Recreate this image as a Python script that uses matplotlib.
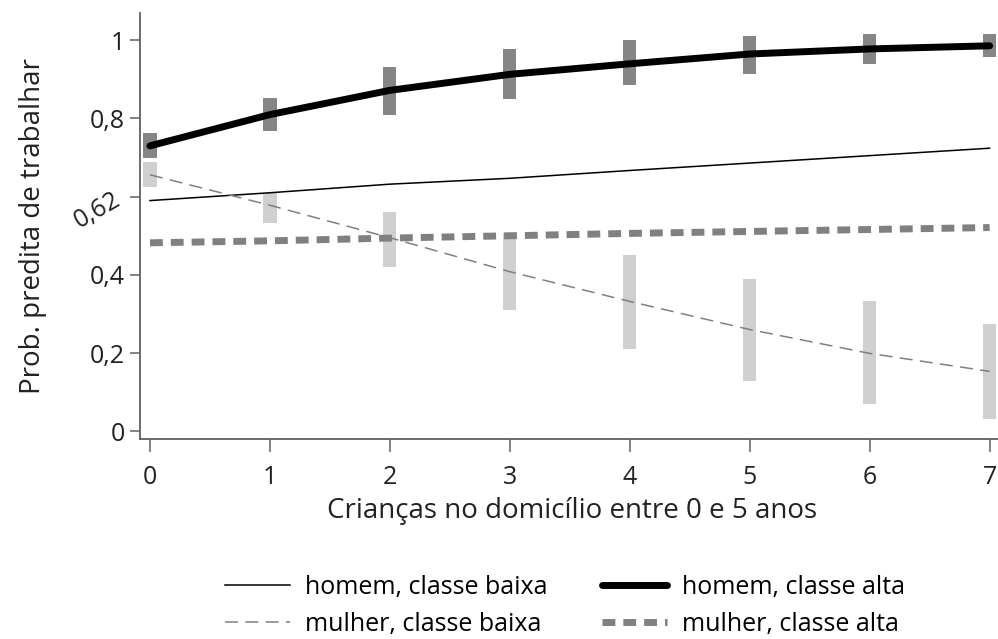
import matplotlib.pyplot as plt
import numpy as np

plt.rcParams['font.family'] = ['Open Sans', 'DejaVu Sans']

criancas = [0, 1, 2, 3, 4, 5, 6, 7]

homem_baixa = [0.59, 0.61, 0.632, 0.647, 0.667, 0.686, 0.705, 0.724]
homem_alta = [0.73, 0.81, 0.872, 0.913, 0.94, 0.965, 0.978, 0.986]
mulher_baixa = [0.656, 0.578, 0.495, 0.408, 0.332, 0.26, 0.199, 0.153]
mulher_alta = [0.482, 0.487, 0.494, 0.5, 0.506, 0.511, 0.516, 0.521]

# intervalos de confiança (inferior, superior)
homem_alta_lo = [0.70, 0.768, 0.809, 0.849, 0.885, 0.915, 0.94, 0.957]
homem_alta_hi = [0.763, 0.852, 0.931, 0.977, 1.0, 1.01, 1.015, 1.015]
mulher_baixa_lo = [0.625, 0.533, 0.421, 0.309, 0.209, 0.128, 0.069, 0.03]
mulher_baixa_hi = [0.689, 0.61, 0.561, 0.507, 0.45, 0.39, 0.332, 0.275]

yticks = [0, 0.2, 0.4, 0.6, 0.8, 1]
ytick_labels = ['0', '0,2', '0,4', '0,62', '0,8', '1']

fig = plt.figure(figsize=(9.98, 6.39), dpi=100)
ax = fig.add_axes([0.1403, 0.3130, 0.8597, 0.6667])

x = np.array(criancas)
ax.bar(x, np.array(homem_alta_hi) - np.array(homem_alta_lo), bottom=homem_alta_lo,
       width=0.11, color='#858585', zorder=1)
ax.bar(x, np.array(mulher_baixa_hi) - np.array(mulher_baixa_lo), bottom=mulher_baixa_lo,
       width=0.11, color='#d0d0d0', zorder=1)

l1, = ax.plot(x, homem_baixa, color='black', lw=1.1, zorder=3, label='homem, classe baixa')
l2, = ax.plot(x, homem_alta, color='black', lw=5, zorder=4, label='homem, classe alta',
              solid_capstyle='round')
l3, = ax.plot(x, mulher_baixa, color='#808080', lw=1.1, dashes=(8.5, 4.8), zorder=3,
              label='mulher, classe baixa')
l4, = ax.plot(x, mulher_alta, color='#808080', lw=5, dashes=(1.85, 1.15), zorder=3,
              label='mulher, classe alta')

ax.set_xlim(-0.083, 7.07)
ax.set_ylim(-0.02, 1.07)
ax.set_xticks(criancas)
ax.set_yticks(yticks)
ax.set_yticklabels(ytick_labels)
ax.get_yticklabels()[3].set_rotation(30)

for s in ['top', 'right']:
    ax.spines[s].set_visible(False)
for s in ['left', 'bottom']:
    ax.spines[s].set_color('#606060')
    ax.spines[s].set_linewidth(1.3)
ax.tick_params(direction='out', width=1.1, color='#606060', labelsize=18,
               labelcolor='#222222')
ax.tick_params(axis='y', length=7, pad=4)
ax.tick_params(axis='x', length=9, pad=10)

ax.set_xlabel('Crianças no domicílio entre 0 e 5 anos', fontsize=20, color='#222222')
ax.set_ylabel('Prob. predita de trabalhar', fontsize=20, color='#222222')
ax.xaxis.set_label_coords(0.503, -0.135)
ax.yaxis.set_label_coords(-0.108, 0.5)

fig.legend(handles=[l1, l3, l2, l4], loc='center', bbox_to_anchor=(0.566, 0.052), ncol=2,
           frameon=False, fontsize=18, handlelength=2.6, columnspacing=2.2,
           handletextpad=0.6, labelspacing=0.5)

fig.savefig('out.png', dpi=100)
